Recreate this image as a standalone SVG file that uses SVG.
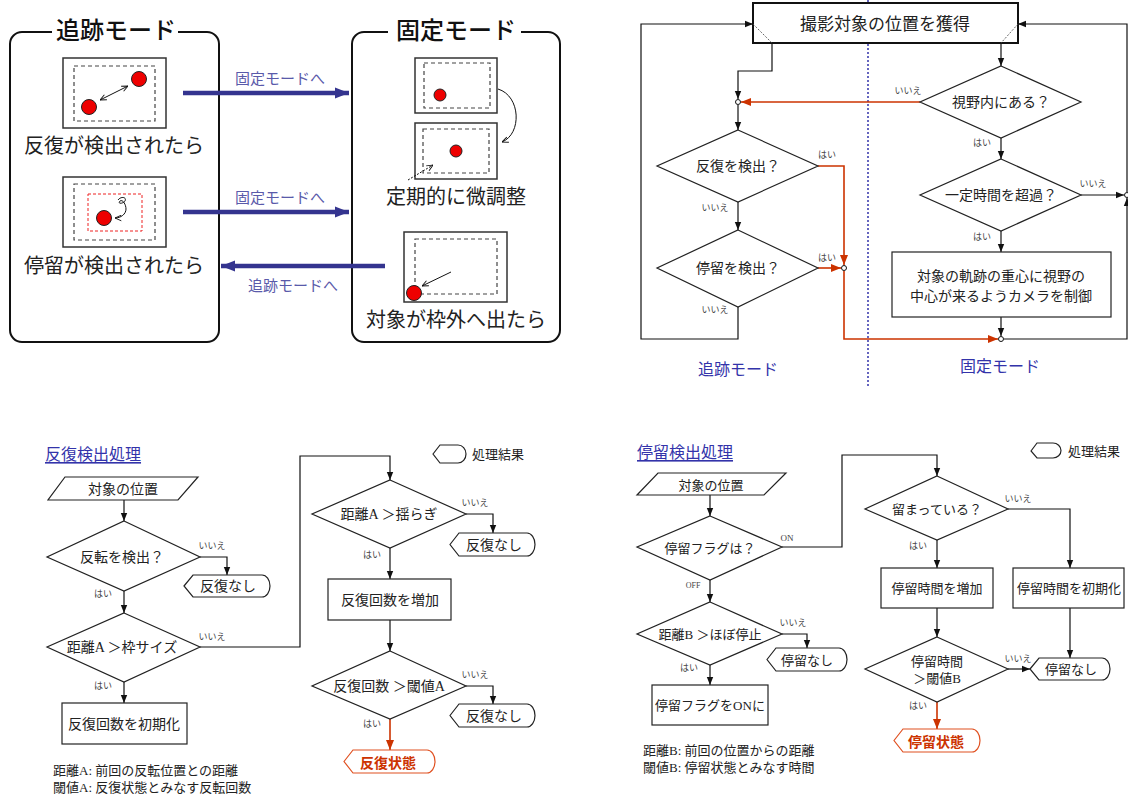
<svg xmlns="http://www.w3.org/2000/svg" width="1128" height="796" viewBox="0 0 1128 796">
<style>
.ln{fill:none;stroke:#111;stroke-width:1.2}
.rd{fill:none;stroke:#cc3300;stroke-width:1.6}
.nd{fill:#fff;stroke:#222;stroke-width:1.2}
.t{font-family:"Liberation Serif","Noto Sans CJK JP",serif;font-size:14px;fill:#222;text-anchor:middle;dominant-baseline:central}
.t13{font-family:"Liberation Serif","Noto Sans CJK JP",serif;font-size:13px;fill:#222;text-anchor:middle;dominant-baseline:central}
.tl{font-family:"Liberation Serif","Noto Sans CJK JP",serif;font-size:13px;fill:#222;dominant-baseline:central}
.s{font-family:"Liberation Sans","Noto Sans CJK JP",sans-serif;font-size:9px;fill:#444;text-anchor:middle;dominant-baseline:central}
.big{font-family:"Noto Sans CJK JP",sans-serif;font-size:20px;fill:#222;text-anchor:middle;dominant-baseline:central}
.ttl{font-family:"Noto Sans CJK JP",sans-serif;font-size:24px;font-weight:500;fill:#111;text-anchor:middle;dominant-baseline:central}
.bl{font-family:"Noto Sans CJK JP",sans-serif;font-size:15px;fill:#5a5aaa;text-anchor:middle;dominant-baseline:central}
.mode{font-family:"Noto Sans CJK JP",sans-serif;font-size:16px;fill:#3333aa;text-anchor:middle;dominant-baseline:central}
.hd{font-family:"Noto Sans CJK JP",sans-serif;font-size:16px;fill:#3333aa;text-decoration:underline;dominant-baseline:central}
.frm{fill:#fff;stroke:#333;stroke-width:1.5}
.dsh{fill:none;stroke:#444;stroke-width:1.2;stroke-dasharray:4 3}
.dot{fill:#ee0000;stroke:#222;stroke-width:1}
.barr{fill:none;stroke:#34348f;stroke-width:4.5}
.rterm{fill:#fff;stroke:#e05020;stroke-width:1.2}
.rt{font-family:"Noto Sans CJK JP",sans-serif;font-size:14px;font-weight:bold;fill:#cc3300;text-anchor:middle;dominant-baseline:central}
.cir{fill:#fff;stroke:#111;stroke-width:1}
</style>
<defs>
<marker id="a" viewBox="0 0 10 10" refX="10" refY="5" markerWidth="8" markerHeight="8" markerUnits="userSpaceOnUse" orient="auto"><path d="M0,1 L10,5 L0,9 z" fill="#111"/></marker>
<marker id="r" viewBox="0 0 10 10" refX="10" refY="5" markerWidth="10" markerHeight="10" markerUnits="userSpaceOnUse" orient="auto"><path d="M0,1 L10,5 L0,9 z" fill="#cc3300"/></marker>
<marker id="b" viewBox="0 0 10 10" refX="10" refY="5" markerWidth="14" markerHeight="14" markerUnits="userSpaceOnUse" orient="auto"><path d="M0,1 L10,5 L0,9 z" fill="#34348f"/></marker>
<marker id="s" viewBox="0 0 10 10" refX="10" refY="5" markerWidth="7" markerHeight="7" markerUnits="userSpaceOnUse" orient="auto-start-reverse"><path d="M1,1 L10,5 L1,9" fill="none" stroke="#111" stroke-width="1.3"/></marker>
</defs>

<!-- ===== Top-left: mode illustration ===== -->
<g id="tracking-mode">
<rect x="10" y="32" width="209" height="310" rx="12" fill="none" stroke="#111" stroke-width="2"/>
<rect x="52" y="26" width="126" height="12" fill="#fff"/>
<text class="ttl" x="116" y="28">追跡モード</text>
<rect class="frm" x="63" y="58" width="103" height="70"/>
<rect class="dsh" x="74" y="66" width="81" height="55"/>
<circle class="dot" cx="89" cy="107" r="7.5"/>
<circle class="dot" cx="139" cy="79" r="7.5"/>
<line x1="100" y1="100" x2="128" y2="86" stroke="#111" stroke-width="1" marker-start="url(#s)" marker-end="url(#s)"/>
<text class="big" x="114" y="144">反復が検出されたら</text>
<rect class="frm" x="63" y="177" width="103" height="70"/>
<rect class="dsh" x="74" y="184" width="81" height="56"/>
<rect x="88" y="194" width="54" height="37" fill="none" stroke="#ee2222" stroke-width="1" stroke-dasharray="3 2"/>
<circle class="dot" cx="104" cy="218" r="7.5"/>
<path d="M118,200 c3,-4 9,-3 7,1 c-2,3 -8,3 -5,0 c3,-2 6,4 6,8 c0,5 -5,9 -11,9" fill="none" stroke="#111" stroke-width="1" marker-end="url(#s)"/>
<text class="big" x="114" y="264">停留が検出されたら</text>
</g>

<g id="fixed-mode">
<rect x="352" y="32" width="208" height="310" rx="12" fill="none" stroke="#111" stroke-width="2"/>
<rect x="388" y="26" width="133" height="12" fill="#fff"/>
<text class="ttl" x="456" y="28">固定モード</text>
<rect class="frm" x="415" y="58" width="82" height="55"/>
<rect class="dsh" x="424" y="63" width="66" height="45"/>
<circle class="dot" cx="440" cy="95" r="6"/>
<path d="M498,89 C521,96 522,134 502,142" fill="none" stroke="#111" stroke-width="1" marker-end="url(#s)"/>
<rect class="frm" x="415" y="123" width="82" height="56"/>
<rect class="dsh" x="423" y="129" width="66" height="44"/>
<circle class="dot" cx="456" cy="151" r="6"/>
<line x1="408" y1="180" x2="433" y2="165" stroke="#111" stroke-width="1" stroke-dasharray="2 1.5" marker-end="url(#s)"/>
<text class="big" x="456" y="195">定期的に微調整</text>
<rect class="frm" x="404" y="232" width="103" height="70"/>
<rect class="dsh" x="415" y="239" width="82" height="55"/>
<circle class="dot" cx="414" cy="293" r="7.5"/>
<line x1="451" y1="272" x2="422" y2="286" stroke="#111" stroke-width="1" marker-end="url(#s)"/>
<text class="big" x="456" y="318">対象が枠外へ出たら</text>
</g>

<g id="mode-arrows">
<line class="barr" x1="183" y1="93" x2="349" y2="93" marker-end="url(#b)"/>
<text class="bl" x="280" y="77">固定モードへ</text>
<line class="barr" x1="183" y1="212" x2="349" y2="212" marker-end="url(#b)"/>
<text class="bl" x="280" y="196">固定モードへ</text>
<line class="barr" x1="385" y1="266" x2="221" y2="266" marker-end="url(#b)"/>
<text class="bl" x="293" y="284">追跡モードへ</text>
</g>

<!-- ===== Top-right: main flowchart ===== -->
<g id="divider">
<line x1="868" y1="0" x2="868" y2="386" stroke="#3333aa" stroke-width="1.5" stroke-dasharray="2 2"/>
<text class="mode" x="738" y="368">追跡モード</text>
<text class="mode" x="1000" y="365">固定モード</text>
</g>

<g id="main-connectors">
<polyline class="ln" points="772,43 772,71 738,71 738,99" marker-end="url(#a)"/>
<line class="ln" x1="738" y1="105" x2="738" y2="130" marker-end="url(#a)"/>
<line class="ln" x1="738" y1="202" x2="738" y2="230" marker-end="url(#a)"/>
<polyline class="ln" points="738,307 738,339 641,339 641,24 753,24" marker-end="url(#a)"/>
<line class="ln" x1="1001" y1="43" x2="1001" y2="66" marker-end="url(#a)"/>
<line class="ln" x1="1001" y1="138" x2="1001" y2="159" marker-end="url(#a)"/>
<line class="ln" x1="1001" y1="231" x2="1001" y2="252" marker-end="url(#a)"/>
<line class="ln" x1="1001" y1="317" x2="1001" y2="336" marker-end="url(#a)"/>
<line class="ln" x1="1081" y1="195" x2="1124" y2="195" marker-end="url(#a)"/>
<polyline class="ln" points="1004,339 1127,339 1127,198" marker-end="url(#a)"/>
<polyline class="ln" points="1127,192 1127,24 1018,24" marker-end="url(#a)"/>
<line class="rd" x1="920" y1="102" x2="741" y2="102" marker-end="url(#r)"/>
<polyline class="rd" points="818,166 844,166 844,265" marker-end="url(#r)"/>
<line class="rd" x1="818" y1="268" x2="841" y2="268" marker-end="url(#r)"/>
<polyline class="rd" points="844,271 844,339 998,339" marker-end="url(#r)"/>
<circle class="cir" cx="738" cy="102" r="2.5"/>
<circle class="cir" cx="844" cy="268" r="2.5"/>
<circle class="cir" cx="1001" cy="339" r="2.5"/>
<circle class="cir" cx="1127" cy="195" r="2.5"/>
<text class="s" x="827" y="155">はい</text>
<text class="s" x="715" y="208">いいえ</text>
<text class="s" x="827" y="258">はい</text>
<text class="s" x="715" y="310">いいえ</text>
<text class="s" x="908" y="91">いいえ</text>
<text class="s" x="982" y="143">はい</text>
<text class="s" x="1093" y="184">いいえ</text>
<text class="s" x="982" y="237">はい</text>
</g>

<g id="acquire">
<rect x="753" y="3" width="265" height="40" fill="#fff" stroke="#111" stroke-width="2"/>
<line x1="753" y1="24" x2="772" y2="43" stroke="#444" stroke-width="0.8" stroke-dasharray="2 1.5"/>
<line x1="1018" y1="24" x2="1001" y2="43" stroke="#444" stroke-width="0.8" stroke-dasharray="2 1.5"/>
<text class="t" x="885" y="24" style="font-size:17px">撮影対象の位置を獲得</text>
</g>
<g id="rep-detect">
<polygon class="nd" points="738,130 818,166 738,202 657,166"/>
<text class="t" x="738" y="166">反復を検出？</text>
</g>
<g id="stay-detect">
<polygon class="nd" points="738,230 818,268 738,307 657,268"/>
<text class="t" x="738" y="268">停留を検出？</text>
</g>
<g id="in-view">
<polygon class="nd" points="1001,66 1081,102 1001,138 920,102"/>
<text class="t" x="1001" y="102">視野内にある？</text>
</g>
<g id="time-over">
<polygon class="nd" points="1001,159 1081,195 1001,231 920,195"/>
<text class="t" x="1001" y="195">一定時間を超過？</text>
</g>
<g id="camera-ctrl">
<rect class="nd" x="892" y="252" width="219" height="65"/>
<text class="t" x="1001" y="276">対象の軌跡の重心に視野の</text>
<text class="t" x="1001" y="296">中心が来るようカメラを制御</text>
</g>

<!-- ===== Bottom-left: 反復検出処理 ===== -->
<g id="rep-title">
<text class="hd" x="45" y="453">反復検出処理</text>
</g>
<g id="rep-legend">
<path class="nd" d="M433,454 L440,445 L458,445 A8,9 0 0 1 458,463 L440,463 Z"/>
<text class="tl" x="472" y="454">処理結果</text>
</g>
<g id="rep-connectors">
<line class="ln" x1="124" y1="500" x2="124" y2="521" marker-end="url(#a)"/>
<polyline class="ln" points="200,557 227,557 227,575" marker-end="url(#a)"/>
<line class="ln" x1="124" y1="591" x2="124" y2="613" marker-end="url(#a)"/>
<polyline class="ln" points="200,647 300,647 300,456 390,456 390,480" marker-end="url(#a)"/>
<line class="ln" x1="124" y1="682" x2="124" y2="703" marker-end="url(#a)"/>
<polyline class="ln" points="466,514 493,514 493,533" marker-end="url(#a)"/>
<line class="ln" x1="390" y1="548" x2="390" y2="579" marker-end="url(#a)"/>
<line class="ln" x1="390" y1="620" x2="390" y2="651" marker-end="url(#a)"/>
<polyline class="ln" points="466,686 493,686 493,704" marker-end="url(#a)"/>
<line class="rd" x1="390" y1="719" x2="390" y2="750" marker-end="url(#r)"/>
<text class="s" x="212" y="546">いいえ</text>
<text class="s" x="103" y="594">はい</text>
<text class="s" x="212" y="637">いいえ</text>
<text class="s" x="103" y="686">はい</text>
<text class="s" x="475" y="503">いいえ</text>
<text class="s" x="372" y="555">はい</text>
<text class="s" x="475" y="675">いいえ</text>
<text class="s" x="372" y="724">はい</text>
</g>
<g id="rep-input">
<polygon class="nd" points="65,477 198,477 178,500 48,500"/>
<text class="t" x="123" y="489">対象の位置</text>
</g>
<g id="rep-turn">
<polygon class="nd" points="124,521 200,557 124,591 47,557"/>
<text class="t" x="122" y="557">反転を検出？</text>
</g>
<g id="rep-none1">
<path class="nd" d="M184,586 L193,575 L262,575 A8,11 0 0 1 262,597 L193,597 Z"/>
<text class="t" x="228" y="586">反復なし</text>
</g>
<g id="rep-dist-frame">
<polygon class="nd" points="124,613 200,647 124,682 47,647"/>
<text class="t" x="122" y="647">距離A ＞枠サイズ</text>
</g>
<g id="rep-init">
<rect class="nd" x="62" y="703" width="125" height="41"/>
<text class="t" x="124" y="724">反復回数を初期化</text>
</g>
<g id="rep-note">
<text class="tl" x="53" y="770">距離A: 前回の反転位置との距離</text>
<text class="tl" x="53" y="787">閾値A: 反復状態とみなす反転回数</text>
</g>
<g id="rep-dist-sway">
<polygon class="nd" points="390,480 466,514 390,548 312,514"/>
<text class="t" x="389" y="514">距離A ＞揺らぎ</text>
</g>
<g id="rep-none2">
<path class="nd" d="M450,544.5 L459,533 L527,533 A8,11.5 0 0 1 527,556 L459,556 Z"/>
<text class="t" x="494" y="545">反復なし</text>
</g>
<g id="rep-inc">
<rect class="nd" x="328" y="579" width="123" height="41"/>
<text class="t" x="390" y="600">反復回数を増加</text>
</g>
<g id="rep-thresh">
<polygon class="nd" points="390,651 466,686 390,719 312,686"/>
<text class="t" x="389" y="686">反復回数 ＞閾値A</text>
</g>
<g id="rep-none3">
<path class="nd" d="M450,715.5 L459,704 L527,704 A8,11.5 0 0 1 527,727 L459,727 Z"/>
<text class="t" x="494" y="716">反復なし</text>
</g>
<g id="rep-state">
<path class="rterm" d="M344,761.5 L353,750 L427,750 A8,11.5 0 0 1 427,773 L353,773 Z"/>
<text class="rt" x="388" y="762">反復状態</text>
</g>

<!-- ===== Bottom-right: 停留検出処理 ===== -->
<g id="stay-title">
<text class="hd" x="637" y="451">停留検出処理</text>
</g>
<g id="stay-legend">
<path class="nd" d="M1031,451 L1037,443 L1053,443 A8,7.5 0 0 1 1053,458 L1037,458 Z"/>
<text class="tl" x="1068" y="451">処理結果</text>
</g>
<g id="stay-connectors">
<line class="ln" x1="710" y1="495" x2="710" y2="516" marker-end="url(#a)"/>
<polyline class="ln" points="782,547 842,547 842,455 937,455 937,476" marker-end="url(#a)"/>
<line class="ln" x1="710" y1="580" x2="710" y2="602" marker-end="url(#a)"/>
<polyline class="ln" points="782,634 807,634 807,648" marker-end="url(#a)"/>
<line class="ln" x1="710" y1="665" x2="710" y2="685" marker-end="url(#a)"/>
<polyline class="ln" points="1008,509 1070,509 1070,568" marker-end="url(#a)"/>
<line class="ln" x1="937" y1="540" x2="937" y2="568" marker-end="url(#a)"/>
<line class="ln" x1="937" y1="608" x2="937" y2="637" marker-end="url(#a)"/>
<line class="ln" x1="1070" y1="608" x2="1070" y2="658" marker-end="url(#a)"/>
<line class="ln" x1="1008" y1="669" x2="1030" y2="669" marker-end="url(#a)"/>
<line class="rd" x1="937" y1="702" x2="937" y2="729" marker-end="url(#r)"/>
<text class="s" x="787" y="538" style="font-family:'Liberation Serif',serif">ON</text>
<text class="s" x="693" y="585" style="font-family:'Liberation Serif',serif;font-size:8px">OFF</text>
<text class="s" x="793" y="623">いいえ</text>
<text class="s" x="689" y="668">はい</text>
<text class="s" x="1018" y="499">いいえ</text>
<text class="s" x="918" y="546">はい</text>
<text class="s" x="1018" y="659">いいえ</text>
<text class="s" x="918" y="706">はい</text>
</g>
<g id="stay-input">
<polygon class="nd" points="658,473 786,473 764,495 637,495"/>
<text class="t13" x="711" y="485">対象の位置</text>
</g>
<g id="stay-flag">
<polygon class="nd" points="710,516 782,547 710,580 637,547"/>
<text class="t13" x="710" y="548">停留フラグは？</text>
</g>
<g id="stay-dist">
<polygon class="nd" points="710,602 782,634 710,665 637,634"/>
<text class="t13" x="710" y="634">距離B ＞ほぼ停止</text>
</g>
<g id="stay-none1">
<path class="nd" d="M767,659.5 L776,648 L839,648 A8,11.5 0 0 1 839,671 L776,671 Z"/>
<text class="t13" x="807" y="660">停留なし</text>
</g>
<g id="stay-flag-on">
<rect class="nd" x="652" y="685" width="116" height="40"/>
<text class="t13" x="710" y="705">停留フラグをONに</text>
</g>
<g id="stay-note">
<text class="tl" x="643" y="750">距離B: 前回の位置からの距離</text>
<text class="tl" x="643" y="767">閾値B: 停留状態とみなす時間</text>
</g>
<g id="stay-still">
<polygon class="nd" points="937,476 1008,509 937,540 865,509"/>
<text class="t13" x="937" y="509">留まっている？</text>
</g>
<g id="stay-inc">
<rect class="nd" x="881" y="568" width="112" height="40"/>
<text class="t13" x="937" y="588">停留時間を増加</text>
</g>
<g id="stay-init">
<rect class="nd" x="1013" y="568" width="111" height="40"/>
<text class="t13" x="1069" y="588">停留時間を初期化</text>
</g>
<g id="stay-thresh">
<polygon class="nd" points="937,637 1008,669 937,702 865,669"/>
<text class="t13" x="937" y="661">停留時間</text>
<text class="t13" x="937" y="678">＞閾値B</text>
</g>
<g id="stay-none2">
<path class="nd" d="M1030,669 L1039,658 L1102,658 A8,11 0 0 1 1102,680 L1039,680 Z"/>
<text class="t13" x="1071" y="669">停留なし</text>
</g>
<g id="stay-state">
<path class="rterm" d="M894,740.5 L903,729 L972,729 A8,11.5 0 0 1 972,752 L903,752 Z"/>
<text class="rt" x="936" y="741">停留状態</text>
</g>
</svg>
